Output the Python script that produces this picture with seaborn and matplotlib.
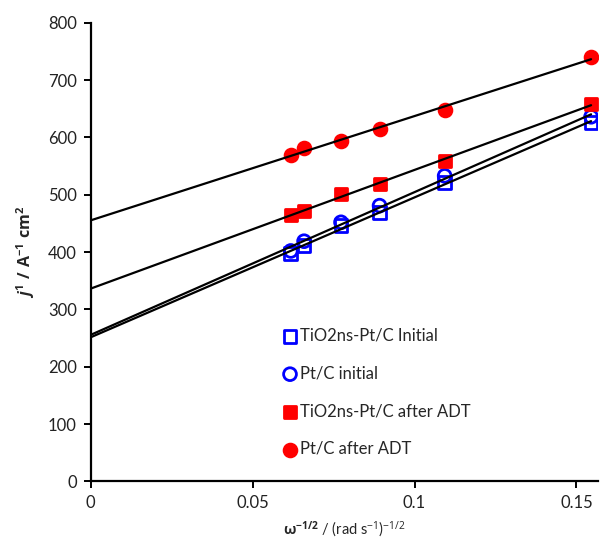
import numpy as np
import pandas as pd
import matplotlib
matplotlib.use('Agg')
import matplotlib.pyplot as plt
import seaborn as sns

# omega^-1/2 values (rad s^-1)^-1/2
omega = [0.0618, 0.0659, 0.0773, 0.0892, 0.1093, 0.1545]

tio2_initial = [397, 411, 446, 469, 521, 626]
ptc_initial = [402, 419, 452, 481, 533, 636]
tio2_adt = [465, 471, 502, 518, 559, 658]
ptc_adt = [569, 582, 593, 615, 647, 741]

labels = ['TiO2ns-Pt/C Initial', 'Pt/C initial', 'TiO2ns-Pt/C after ADT', 'Pt/C after ADT']
series = [tio2_initial, ptc_initial, tio2_adt, ptc_adt]

rows = []
for lab, vals in zip(labels, series):
    for x, y in zip(omega, vals):
        rows.append({'x': x, 'y': y, 'sample': lab})
df = pd.DataFrame(rows)

sns.set_style('white')
plt.rcParams['font.family'] = ['Lato', 'Open Sans', 'DejaVu Sans']
plt.rcParams['mathtext.fontset'] = 'custom'
plt.rcParams['mathtext.rm'] = 'Open Sans'
plt.rcParams['mathtext.bf'] = 'Open Sans:bold'
plt.rcParams['mathtext.it'] = 'Open Sans:italic:bold'

fig = plt.figure(figsize=(6, 5.41), dpi=100)
ax = fig.add_axes([0.151, 0.110, 0.846, 0.848])

styles = {
    'TiO2ns-Pt/C Initial': dict(marker='s', facecolor='none', edgecolor='#0000FF'),
    'Pt/C initial': dict(marker='o', facecolor='none', edgecolor='#0000FF'),
    'TiO2ns-Pt/C after ADT': dict(marker='s', facecolor='#FF0000', edgecolor='#FF0000'),
    'Pt/C after ADT': dict(marker='o', facecolor='#FF0000', edgecolor='#FF0000'),
}

for lab in labels:
    st = styles[lab]
    sub = df[df['sample'] == lab]
    sns.scatterplot(data=sub, x='x', y='y', ax=ax, marker=st['marker'],
                    facecolor=st['facecolor'], edgecolor=st['edgecolor'],
                    linewidth=2.0, s=85, label=lab, zorder=2)

# regression lines from 0 to last point
ax.set_xlim(0, max(omega))
for lab in labels:
    sub = df[df['sample'] == lab]
    sns.regplot(data=sub, x='x', y='y', ax=ax, scatter=False, ci=None,
                truncate=False, color='black', line_kws={'linewidth': 1.6, 'zorder': 3})

ax.set_xlim(0, 0.1567)
ax.set_ylim(0, 800)
ax.set_xticks([0, 0.05, 0.1, 0.15])
ax.set_xticklabels(['0', '0.05', '0.1', '0.15'])
ax.set_yticks(range(0, 801, 100))

for side in ['top', 'right']:
    ax.spines[side].set_visible(False)
for side in ['left', 'bottom']:
    ax.spines[side].set_color('black')
    ax.spines[side].set_linewidth(1.6)
ax.tick_params(axis='both', direction='out', length=5, width=1.4, color='black',
               labelsize=12, labelcolor='#222222', bottom=True, left=True, pad=5)

ax.set_xlabel(r'$\mathbf{\omega^{-1/2}}$ / (rad s$^{-1}$)$^{-1/2}$', fontsize=10.5, labelpad=6)
ax.set_ylabel(r'$\mathit{j}^{\mathbf{1}}\mathbf{\ /\ A^{-1}\ cm^{2}}$', fontsize=11.5, labelpad=8)

ax.legend(loc='upper left', bbox_to_anchor=(0.36, 0.353), frameon=False,
          fontsize=12, labelspacing=1.3, handletextpad=0.1, handlelength=1.0,
          borderpad=0)

fig.savefig('out.png', dpi=100)
